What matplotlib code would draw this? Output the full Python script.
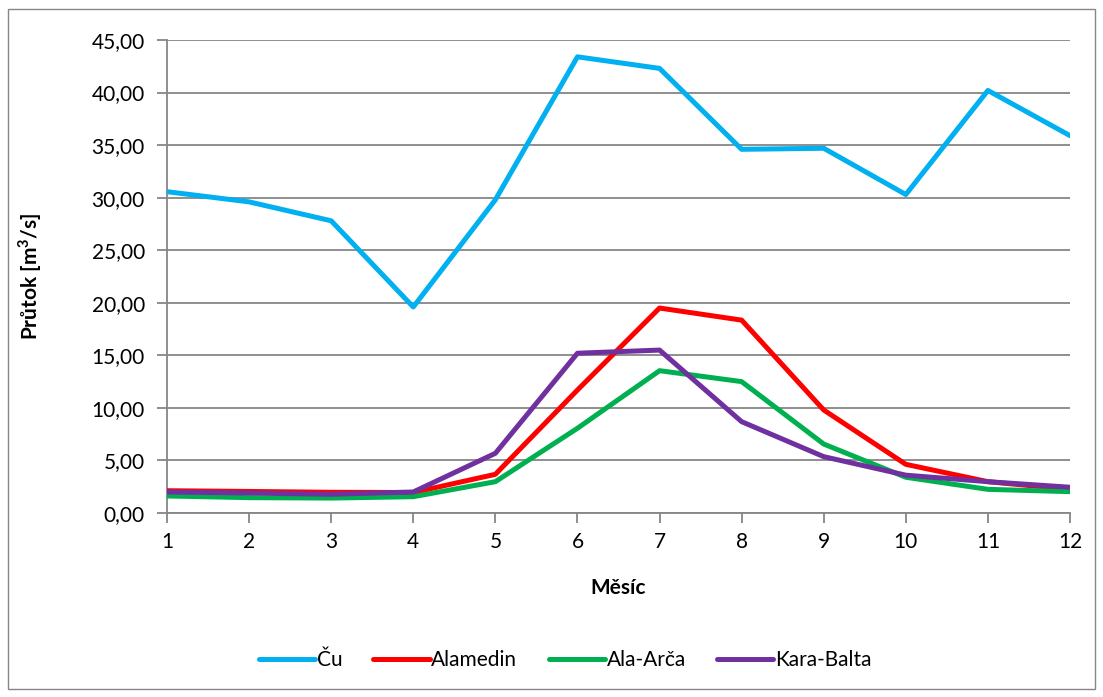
import numpy as np
import matplotlib
matplotlib.use('Agg')
import matplotlib.pyplot as plt
from matplotlib.patches import Rectangle
from matplotlib.ticker import FuncFormatter

########## Data ##########
months = [1 , 2 , 3 , 4 , 5 , 6 , 7 , 8 , 9 , 10 , 11 , 12]
cu = [30.57 , 29.6 , 27.8 , 19.6 , 29.8 , 43.4 , 42.3 , 34.6 , 34.7 , 30.3 , 40.2 , 35.9]
alamedin = [2.12 , 2.05 , 1.97 , 1.95 , 3.68 , 11.7 , 19.5 , 18.35 , 9.8 , 4.63 , 2.98 , 2.25]
ala_arca = [1.62 , 1.46 , 1.42 , 1.55 , 2.98 , 8.06 , 13.54 , 12.5 , 6.56 , 3.4 , 2.25 , 2.03]
kara_balta = [2.0 , 1.9 , 1.78 , 2.0 , 5.68 , 15.2 , 15.5 , 8.69 , 5.36 , 3.6 , 2.98 , 2.45]
series_names = ['Ču' , 'Alamedin' , 'Ala-Arča' , 'Kara-Balta']
yticks = np.arange(0 , 45.01 , 5)

########## Style ##########
colors = ['#00b0f0' , '#ff0000' , '#00b050' , '#7030a0']
grid_col = '#868686'
plt.rcParams['font.family'] = ['Lato' , 'DejaVu Sans']

########## Plot ##########
fig = plt.figure(figsize = [11.03 , 6.97] , dpi = 100)
ax = fig.add_axes([167 / 1103 , 1 - 513 / 697 , (1070 - 167) / 1103 , (513 - 40) / 697])

# chart border
fig.patches.append(Rectangle((8 / 1103 , 8 / 697) , 1087 / 1103 , 680 / 697 , transform = fig.transFigure ,
                             fill = False , edgecolor = '#868686' , linewidth = 1.0))

for vals , name , c in zip([cu , alamedin , ala_arca , kara_balta] , series_names , colors):
    ax.plot(months , vals , color = c , linewidth = 3.6 , label = name , solid_joinstyle = 'round' ,
            solid_capstyle = 'round' , zorder = 3)

ax.set_xlim(1 , 12)
ax.set_ylim(0 , 45)
ax.set_xticks(months)
ax.set_yticks(yticks)
ax.yaxis.set_major_formatter(FuncFormatter(lambda v , p: ('%.2f' % v).replace('.' , ',')))
ax.grid(axis = 'y' , color = grid_col , linewidth = 1.3)
ax.set_axisbelow(True)
for s in ['top' , 'right']:
    ax.spines[s].set_visible(False)
for s in ['left' , 'bottom']:
    ax.spines[s].set_color(grid_col)
    ax.spines[s].set_linewidth(1.3)
ax.tick_params(axis = 'both' , colors = grid_col , length = 7 , width = 1.3 , labelsize = 15 , labelcolor = 'black')
ax.tick_params(axis = 'y' , pad = 9)
ax.tick_params(axis = 'x' , pad = 7)

ax.set_xlabel('Měsíc' , fontsize = 15 , fontweight = 'bold')
ax.set_ylabel('Průtok [m$^\\mathregular{3}$/s]' , fontsize = 15 , fontweight = 'bold')
ax.xaxis.set_label_coords(0.5 , (513 - 588) / 473)
ax.yaxis.set_label_coords((30 - 167) / 903 , 0.5)
ax.xaxis.label.set_va('center')
ax.yaxis.label.set_va('center')

leg = fig.legend(loc = 'center' , bbox_to_anchor = (565 / 1103 , 1 - 660 / 697) , ncol = 4 , frameon = False ,
                 fontsize = 15 , handlelength = 2.7 , handletextpad = 0.08 , columnspacing = 1.5)

fig.savefig('out.png' , dpi = 100)
